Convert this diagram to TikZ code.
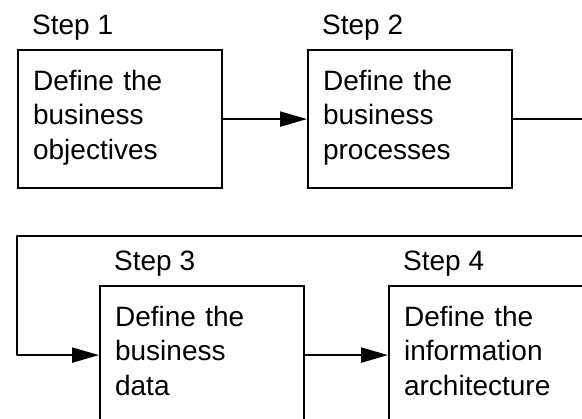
\documentclass[tikz,border=0pt]{standalone}
\usepackage{fontspec}
\setmainfont{Liberation Sans}
\usetikzlibrary{arrows.meta,calc}
\tikzset{
  stepbox/.style={draw, line width=2.2pt, anchor=north west, minimum width=204pt,
    text width=174pt, align=left, inner xsep=15pt, inner ysep=20pt,
    text height=20pt, text depth=78pt, font=\fontsize{28}{34.5}\selectfont},
  steplabel/.style={anchor=base west, inner sep=0pt, font=\fontsize{28}{34.5}\selectfont},
  flow/.style={line width=2.2pt, line join=round, -{Triangle[length=27pt,width=15pt]}}
}

\begin{document}
\begin{tikzpicture}[x=1pt,y=1pt]
		%%%%% START %%%%%
		\useasboundingbox (0,0) rectangle (582,419);
		\clip (0,0) rectangle (582,419);
		
		\node[stepbox] (def1) at (17,370) {Define the\\business\\objectives};
		\node[stepbox] (def2) at (307,370) {Define the\\business\\processes};
		\node[stepbox] (def3) at (99,134) {Define the\\business\\data};
		\node[stepbox] (def4) at (388,134) {Define the\\information\\architecture};
		
		\node[steplabel] (lab1) at ($(def1.north west)+(15,14)$) {Step 1};
		\node[steplabel] (lab2) at ($(def2.north west)+(15,14)$) {Step 2};
		\node[steplabel] (lab3) at ($(def3.north west)+(15,14)$) {Step 3};
		\node[steplabel] (lab4) at ($(def4.north west)+(15,14)$) {Step 4};
		
		\coordinate (wrap) at (17,183);
		\draw[flow] (def1) -- (def2);
		\draw[flow] (def2.east) -- ++(100,0) |- (wrap) |- (def3.west);
		\draw[flow] (def3) -- (def4);
		
		%%%%% END %%%%%
	\end{tikzpicture}
\end{document}
